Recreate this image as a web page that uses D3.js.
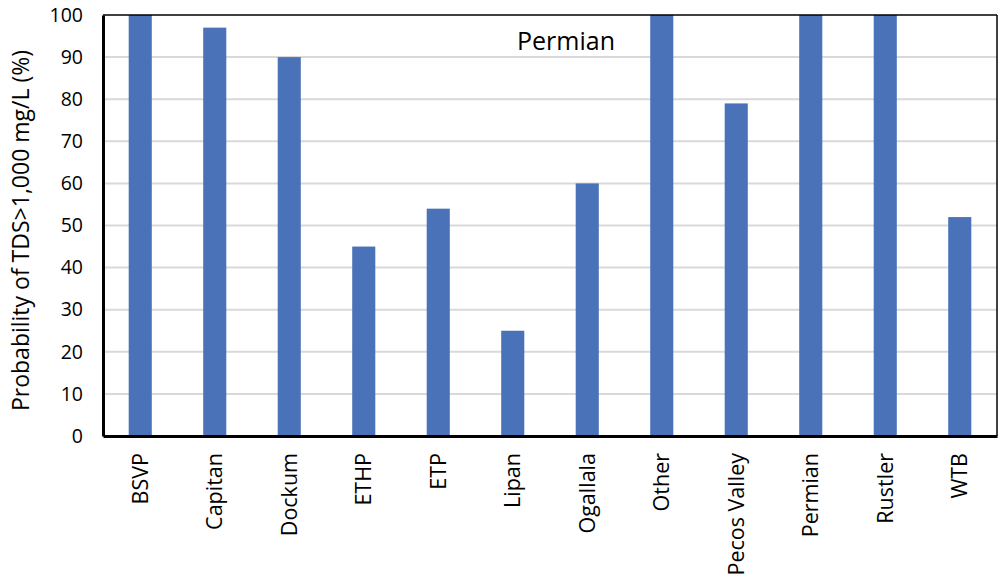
<!DOCTYPE html>
<html><head><meta charset="utf-8">
<script src="https://cdn.jsdelivr.net/npm/d3@7"></script>
<style>body{margin:0;background:#fff;} svg{display:block;font-family:"Open Sans","Noto Sans",sans-serif;}</style>
</head><body>
<svg id="c" width="1002" height="579"></svg>
<script>
const categories = ["BSVP","Capitan","Dockum","ETHP","ETP","Lipan","Ogallala","Other","Pecos Valley","Permian","Rustler","WTB"];
const values = [100,97,90,45,54,25,60,100,79,100,100,52];
const yTicks = [0,10,20,30,40,50,60,70,80,90,100];

const svg = d3.select("#c");
const L=103, R=997, T=15, B=436;
const x = d3.scaleBand().domain(categories).range([L,R]).paddingInner(0.69).paddingOuter(0.345);
const y = d3.scaleLinear().domain([0,100]).range([B,T]);

svg.append("g").selectAll("line").data(yTicks.filter(d=>d>0&&d<100)).join("line")
  .attr("x1",L).attr("x2",R).attr("y1",d=>y(d)).attr("y2",d=>y(d))
  .attr("stroke","#d9d9d9").attr("stroke-width",2);

svg.append("g").selectAll("rect").data(categories).join("rect")
  .attr("x",d=>x(d)).attr("width",x.bandwidth())
  .attr("y",(d,i)=>y(values[i])).attr("height",(d,i)=>B-y(values[i]))
  .attr("fill","#4a72b8");

// frame
svg.append("line").attr("x1",L).attr("x2",R).attr("y1",T).attr("y2",T).attr("stroke","#000").attr("stroke-width",1.5);
svg.append("line").attr("x1",R).attr("x2",R).attr("y1",T).attr("y2",B).attr("stroke","#000").attr("stroke-width",1.5);

const yAxis = svg.append("g").attr("transform",`translate(${L},0)`)
  .call(d3.axisLeft(y).tickValues(yTicks).tickSize(0).tickPadding(20));
yAxis.select(".domain").attr("stroke","#000").attr("stroke-width",3);
yAxis.selectAll("text").attr("font-size",19.5).attr("fill","#000").attr("font-family","Open Sans, sans-serif");

const xAxis = svg.append("g").attr("transform",`translate(0,${B})`)
  .call(d3.axisBottom(x).tickSize(0));
xAxis.select(".domain").attr("stroke","#000").attr("stroke-width",3);
xAxis.selectAll("text").attr("font-size",21.5).attr("fill","#000")
  .attr("font-family","Open Sans, sans-serif")
  .attr("transform","rotate(-90)").attr("text-anchor","end")
  .attr("x",-17).attr("y",0).attr("dy","0.35em");

svg.append("text").attr("transform",`translate(29,${(T+B)/2+5}) rotate(-90)`)
  .attr("text-anchor","middle").attr("font-size",23).attr("fill","#000")
  .text("Probability of TDS>1,000 mg/L (%)");

svg.append("text").attr("x",566).attr("y",50).attr("text-anchor","middle")
  .attr("font-size",25).attr("fill","#000").text("Permian");
</script>
</body></html>
